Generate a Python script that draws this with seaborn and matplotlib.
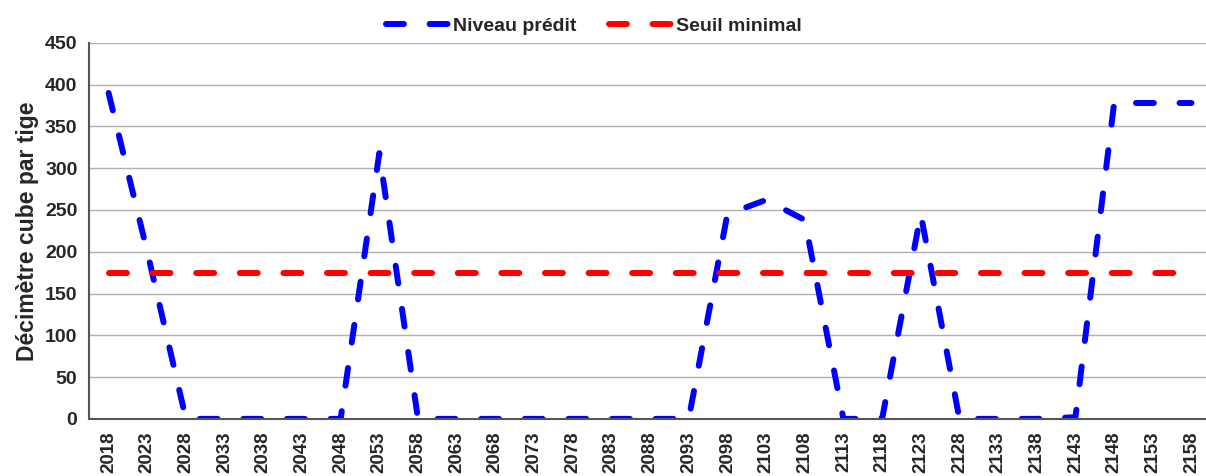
import numpy as np
import pandas as pd
import matplotlib
matplotlib.use("Agg")
import matplotlib.pyplot as plt
import seaborn as sns

# data
years = [str(y) for y in range(2018, 2159, 5)]
niveau = [390, 200, 0, 0, 0, 0, 0, 318, 0, 0, 0, 0, 0, 0, 0, 0, 245, 262, 238,
          0, 0, 245, 0, 0, 0, 2, 378, 378, 378]
seuil = [175] * len(years)

df = pd.DataFrame({"Année": years, "Niveau prédit": niveau, "Seuil minimal": seuil})
df["pos"] = np.arange(len(years))

sns.set_theme(style="white")
plt.rcParams['font.family'] = ['Liberation Sans', 'DejaVu Sans']
plt.rcParams['font.weight'] = 'bold'

fig, ax = plt.subplots(figsize=(12.06, 4.76), dpi=100)

sns.lineplot(data=df, x="pos", y="Niveau prédit", ax=ax, color="#0000ff",
             linewidth=4.3, label="Niveau prédit", sort=False)
sns.lineplot(data=df, x="pos", y="Seuil minimal", ax=ax, color="#ff0000",
             linewidth=4.3, label="Seuil minimal", sort=False)
for ln in ax.get_lines():
    ln.set_dashes((3, 4.3))
    ln.set_dash_capstyle("round")

ax.set_xlim(-0.5, len(years) - 0.5)
ax.set_ylim(0, 450)
ax.set_yticks(range(0, 451, 50))
ax.set_xticks(df["pos"])
ax.set_xticklabels(years, rotation=90, fontsize=13.5, fontweight="bold")
ax.set_xticks(np.arange(-0.5, len(years), 1), minor=True)
ax.tick_params(axis="x", which="major", length=0, pad=9)
ax.tick_params(axis="x", which="minor", length=6, width=1, color="#555555", direction="out")
ax.tick_params(axis="y", length=5, width=1, color="#555555", labelsize=14)
for lab in ax.get_yticklabels():
    lab.set_fontweight("bold")

ax.yaxis.grid(True, color="#b0b0b0", linewidth=1)
ax.xaxis.grid(False)
for s in ["top", "right"]:
    ax.spines[s].set_visible(False)
for s in ["left", "bottom"]:
    ax.spines[s].set_color("#555555")
    ax.spines[s].set_linewidth(1.5)

ax.set_xlabel("")
ax.set_ylabel("Décimètre cube par tige", fontsize=16.5, fontweight="bold", labelpad=4)

leg = ax.legend(loc="lower center", bbox_to_anchor=(0.45, 1.0), ncol=2, frameon=False,
                fontsize=14, handlelength=3.3, handletextpad=0.15, columnspacing=1.7,
                borderaxespad=0.0)
for t in leg.get_texts():
    t.set_fontweight("bold")

fig.subplots_adjust(left=0.074, right=1.004, top=0.91, bottom=0.12)
fig.savefig("out.png", dpi=100)
